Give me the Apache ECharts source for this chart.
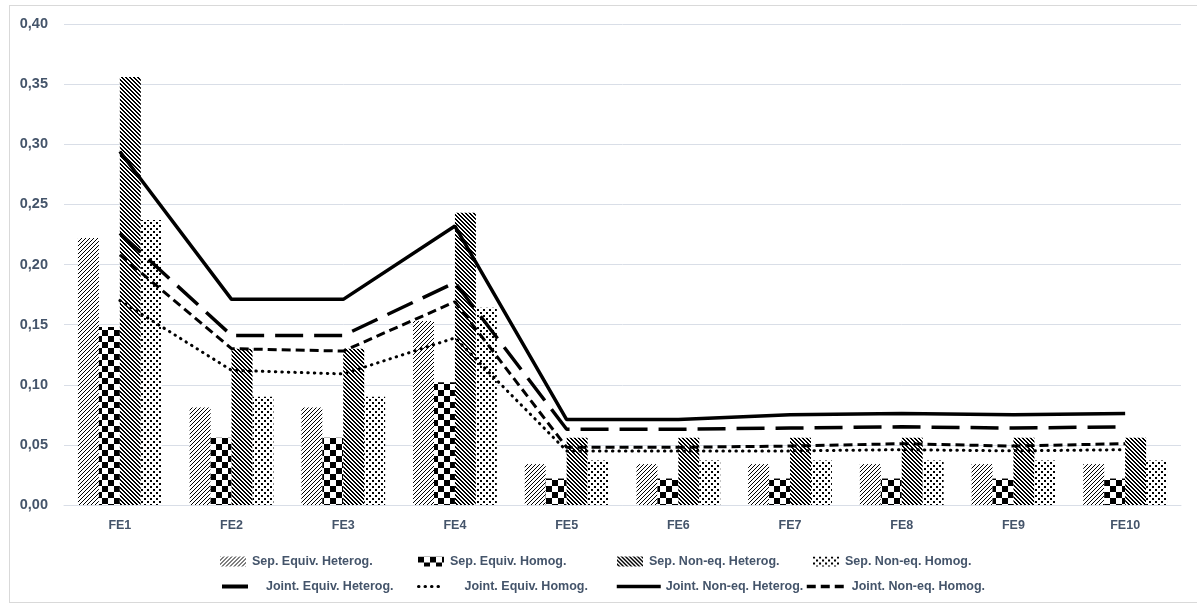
<!DOCTYPE html>
<html>
<head>
<meta charset="utf-8">
<script src="https://cdn.jsdelivr.net/npm/echarts@6/dist/echarts.min.js"></script>
<style>
  html, body { margin: 0; padding: 0; background: #fff; }
  #chart { width: 1197px; height: 604px; }
</style>
</head>
<body>
<div id="chart"></div>
<script>
// Categories and values
const categories = ['FE1', 'FE2', 'FE3', 'FE4', 'FE5', 'FE6', 'FE7', 'FE8', 'FE9', 'FE10'];

const sepEquivHeterog = [0.222, 0.081, 0.081, 0.153, 0.034, 0.034, 0.034, 0.034, 0.034, 0.034];
const sepEquivHomog   = [0.148, 0.056, 0.056, 0.102, 0.022, 0.022, 0.022, 0.022, 0.022, 0.022];
const sepNoneqHeterog = [0.356, 0.130, 0.130, 0.243, 0.056, 0.056, 0.056, 0.056, 0.056, 0.056];
const sepNoneqHomog   = [0.237, 0.090, 0.090, 0.164, 0.037, 0.037, 0.037, 0.037, 0.037, 0.037];

const jointEquivHeterog = [0.226, 0.141, 0.141, 0.185, 0.063, 0.063, 0.064, 0.065, 0.064, 0.065];
const jointEquivHomog   = [0.170, 0.112, 0.109, 0.139, 0.045, 0.045, 0.045, 0.046, 0.045, 0.046];
const jointNoneqHeterog = [0.294, 0.171, 0.171, 0.232, 0.071, 0.071, 0.075, 0.076, 0.075, 0.076];
const jointNoneqHomog   = [0.208, 0.130, 0.128, 0.169, 0.048, 0.048, 0.049, 0.051, 0.049, 0.051];

const seriesNames = [
  'Sep. Equiv. Heterog.', 'Sep. Equiv. Homog.', 'Sep. Non-eq. Heterog.', 'Sep. Non-eq. Homog.',
  'Joint. Equiv. Heterog.', 'Joint. Equiv. Homog.', 'Joint. Non-eq. Heterog.', 'Joint. Non-eq. Homog.'
];

// ---- hatch fills ----
function tile(w, h, draw) {
  const c = document.createElement('canvas');
  c.width = w; c.height = h;
  const g = c.getContext('2d');
  g.fillStyle = '#fff';
  g.fillRect(0, 0, w, h);
  g.fillStyle = '#000';
  draw(g);
  return { image: c, repeat: 'repeat' };
}
// thin upward diagonal
const fillUpDiag = tile(4, 4, g => {
  for (let i = 0; i < 4; i++) g.fillRect(i, 3 - i, 1, 1);
});
// large checkerboard
const fillChecker = tile(12, 12, g => {
  g.fillRect(0, 0, 6, 6);
  g.fillRect(6, 6, 6, 6);
});
// dark downward diagonal
const fillDownDiag = tile(4, 4, g => {
  for (let i = 0; i < 4; i++) {
    g.fillRect(i, i, 1, 1);
    g.fillRect((i + 1) % 4, i, 1, 1);
  }
});
// staggered dots
const fillDots = tile(6, 6, g => {
  g.fillRect(0, 0, 2, 2);
  g.fillRect(3, 3, 2, 2);
});

const textColor = '#44546a';
const fontFamily = '"Liberation Sans", Arial, sans-serif';

function barSeries(name, data, fill) {
  return {
    name, type: 'bar', data,
    barGap: '0%', barCategoryGap: '25%',
    itemStyle: { color: fill },
    z: 2
  };
}
function lineSeries(name, data, width, type, cap) {
  return {
    name, type: 'line', data,
    symbol: 'none',
    lineStyle: { color: '#000', width, type, cap: cap || 'butt' },
    itemStyle: { color: '#000' },
    z: 5
  };
}

function legendItem(name, left, top, w, h, textGap, lineWidth) {
  const isBar = name.startsWith('Sep.');
  const item = {
    data: [name], left, top,
    itemWidth: w, itemHeight: h, itemGap: 0,
    textStyle: {
      color: textColor, fontFamily, fontWeight: 'bold', fontSize: 12.5,
      padding: [0, 0, 0, textGap || 0]
    },
    selectedMode: false
  };
  if (isBar) {
    item.icon = 'rect';
  } else {
    // hide the marker in the middle of the line sample
    item.itemStyle = { opacity: 0 };
    item.lineStyle = { width: lineWidth };
  }
  return item;
}

const option = {
  backgroundColor: '#fff',
  animation: false,
  grid: { left: 64, right: 16, top: 24, bottom: 99, containLabel: false },
  xAxis: {
    type: 'category',
    data: categories,
    axisLine: { show: true, lineStyle: { color: '#d9dee7', width: 1 } },
    axisTick: { show: false },
    axisLabel: { color: textColor, fontFamily, fontWeight: 'bold', fontSize: 12.5, margin: 14 }
  },
  yAxis: {
    type: 'value',
    min: 0, max: 0.4, interval: 0.05,
    axisLine: { show: false },
    axisTick: { show: false },
    splitLine: { lineStyle: { color: '#d9dee7', width: 1 } },
    axisLabel: {
      color: textColor, fontFamily, fontWeight: 'bold', fontSize: 14.5, margin: 16,
      formatter: v => v.toFixed(2).replace('.', ',')
    }
  },
  legend: [
    legendItem(seriesNames[0], 215, 550, 26, 10, 1),
    legendItem(seriesNames[1], 413, 550, 26, 10, 1),
    legendItem(seriesNames[2], 612, 550, 26, 10, 1),
    legendItem(seriesNames[3], 808, 550, 26, 10, 1),
    legendItem(seriesNames[4], 215, 575, 26, 10, 13, 4),
    legendItem(seriesNames[5], 412, 575, 24, 10, 17, 3),
    legendItem(seriesNames[6], 610, 575, 44, 10, 0, 3.5),
    legendItem(seriesNames[7], 800, 575, 40, 10, 0, 3.5)
  ],
  graphic: [
    { type: 'line', shape: { x1: 9.5, y1: 5, x2: 9.5, y2: 603 }, style: { stroke: '#d9d9d9', lineWidth: 1 }, silent: true },
    { type: 'line', shape: { x1: 9, y1: 5.5, x2: 1197, y2: 5.5 }, style: { stroke: '#d9d9d9', lineWidth: 1 }, silent: true },
    { type: 'line', shape: { x1: 9, y1: 602.5, x2: 1197, y2: 602.5 }, style: { stroke: '#d9d9d9', lineWidth: 1 }, silent: true }
  ],
  series: [
    barSeries(seriesNames[0], sepEquivHeterog, fillUpDiag),
    barSeries(seriesNames[1], sepEquivHomog, fillChecker),
    barSeries(seriesNames[2], sepNoneqHeterog, fillDownDiag),
    barSeries(seriesNames[3], sepNoneqHomog, fillDots),
    lineSeries(seriesNames[4], jointEquivHeterog, 3.5, [28, 11]),
    lineSeries(seriesNames[5], jointEquivHomog, 3, [0.5, 6], 'round'),
    lineSeries(seriesNames[6], jointNoneqHeterog, 3.5, 'solid'),
    lineSeries(seriesNames[7], jointNoneqHomog, 3, [9, 5])
  ]
};

const chart = echarts.init(document.getElementById('chart'), null, { renderer: 'canvas' });
chart.setOption(option);
</script>
</body>
</html>
